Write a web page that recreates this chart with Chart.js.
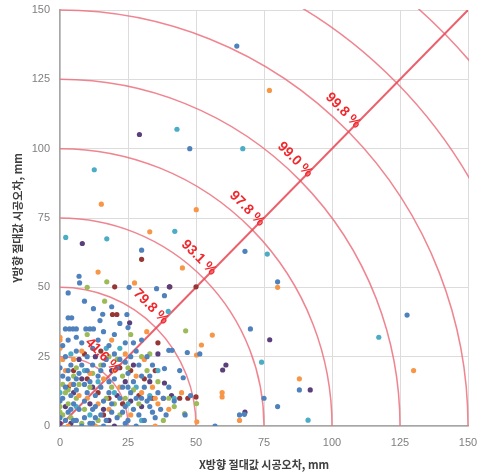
<!DOCTYPE html>
<html>
<head>
<meta charset="utf-8">
<script src="https://cdn.jsdelivr.net/npm/chart.js@4"></script>
<style>
  html, body { margin: 0; padding: 0; background: #fff; }
  #wrap { width: 478px; height: 473px; }
</style>
</head>
<body>
<div id="wrap"><canvas id="grafico"></canvas></div>
<script>
// valores dos eixos (mm)
const eixoMin = 0;
const eixoMax = 150;
const eixoPasso = 25;

// circulos de referencia e percentuais acumulados
const raios = [25, 50, 75, 100, 125, 150, 175, 200];
const rotulosRaio = ['41.6 %', '79.8 %', '93.1 %', '97.8 %', '99.0 %', '99.8 %', '', ''];

// linha diagonal X = Y
const diagonal = [[0, 0], [150, 150]];

// pontos medidos [x, y] por serie
const serieAzul = [
  [65, 137], [47.7, 100], [30, 63.4], [68, 63], [80, 52], [70, 35], [88, 13], [75, 10], [80, 7], [66, 4],
  [127.6, 40], [7, 54], [7.2, 51.6], [3, 48], [9, 45], [19, 43], [12.3, 42.3], [15.7, 40.3], [24.6, 40.2],
  [3, 39], [4.3, 39], [2, 35], [3.5, 35], [4.8, 35], [6, 35], [9.5, 35], [11, 35], [12.3, 35], [25, 35.5],
  [14.7, 38], [25.4, 50], [35.5, 49.5], [38.4, 47], [40, 27.3], [41.2, 27.3], [46.8, 26.5], [51.4, 26],
  [45.3, 17.4], [38.4, 20.7], [67.8, 4.2], [57, 0], [28, 0], [24, 1], [12, 1], [6, 2],
  [1, 10], [2, 14], [3, 17], [4, 11], [5, 8], [6, 13], [7, 19], [8, 22], [9, 9], [10, 12], [11, 16],
  [12, 6], [13, 3], [14, 18], [15, 14], [16, 9], [17, 24], [18, 12], [19, 5], [20, 17], [21, 21],
  [22, 10], [23, 14], [24, 7], [25, 19], [26, 12], [27, 16], [28, 10], [29, 22], [31, 14], [32, 9],
  [33, 18], [34, 5], [36, 12], [2, 25], [4, 22], [6, 27], [8, 30], [10, 25], [12, 28], [14, 31],
  [16, 22], [18, 29], [20, 26], [22, 24], [24, 30], [26, 25], [28, 27], [3, 5], [5, 2], [7, 6], [9, 3],
  [11, 1], [13, 7], [15, 4], [17, 2], [19, 8], [21, 3], [23, 5], [25, 2], [27, 6], [29, 4], [31, 2],
  [33, 7], [35, 3], [37, 6], [39, 4], [42, 9], [46, 4], [48, 11], [10, 20], [12, 22], [6, 17], [3, 20],
  [1, 18], [5, 15], [15, 20], [18, 16], [25, 14], [30, 18], [32, 25], [27, 30], [24, 23], [13, 11],
  [9, 15], [4, 6], [2, 2], [1, 29], [3, 31], [6, 32], [16, 34], [20, 33], [22, 37], [30, 31], [34, 22],
  [38, 10], [40, 14], [44, 20], [30, 10], [33, 10], [8, 0], [16, 0], [0, 3], [0, 9], [0, 21]
];
const serieLaranja = [
  [15.2, 80], [50.1, 78], [33, 70], [77, 121], [45, 57], [80, 50], [88, 17], [130, 20], [66, 2],
  [14, 55.5], [27.4, 51.6], [31.9, 34], [56, 32.8], [50.2, 25.6], [52, 29.2], [59.6, 12], [59.6, 10.5],
  [44.7, 12], [50.3, 1.5], [0, 28], [0, 31], [0, 32], [1, 24], [2, 20], [5, 24], [8, 27], [10, 10],
  [14, 8], [18, 6], [20, 20], [22, 14], [26, 4], [28, 18], [30, 12], [35, 0], [36, 8], [13, 0], [3, 0],
  [7, 11], [24, 26], [16, 17], [31, 24], [40, 6], [34, 14], [19, 31], [35, 10], [11, 19], [4, 15]
];
const serieVerde = [
  [46.2, 34.3], [16.4, 45], [17.2, 52], [10, 50], [45.8, 4.5], [50.2, 8.1], [1, 15], [2, 12], [3, 8],
  [4, 3], [6, 10], [7, 15], [9, 6], [11, 14], [12, 19], [15, 22], [17, 10], [19, 14], [21, 24], [23, 18],
  [25, 21], [27, 13], [29, 8], [30, 25], [33, 26], [36, 16], [38, 2], [42, 7], [22, 4], [14, 2], [5, 18],
  [8, 1], [0, 5], [0, 7], [1, 4], [26, 33], [20, 8], [24, 10], [32, 20], [18, 25], [10, 33], [40, 10],
  [3, 13], [6, 21]
];
const serieCiano = [
  [43, 107], [12.6, 92.4], [42.2, 70.2], [2.1, 68], [17.2, 67.5], [67.2, 100], [76.2, 62], [74.1, 23],
  [91.2, 2.1], [117.2, 32], [39.8, 41.3], [0, 12], [4, 26], [9, 20], [14, 16], [20, 12], [25, 8], [30, 2],
  [36, 20], [11, 4], [22, 28], [28, 14], [6, 7], [17, 28], [33, 11], [42, 10]
];
const serieRoxo = [
  [29.2, 105.1], [8.2, 65.8], [77.1, 31.1], [92, 13], [68, 5], [25.6, 37.2], [59.8, 20.2], [61, 22],
  [38.4, 15.5], [40.2, 50.2], [0, 1], [2, 7], [5, 12], [8, 17], [11, 8], [13, 25], [16, 6], [19, 20],
  [21, 11], [24, 16], [27, 22], [30, 7], [33, 16], [36, 26], [12, 14], [7, 24], [41, 11], [20, 0], [18, 2],
  [4, 1], [26, 9]
];
const serieVinho = [
  [30, 60.1], [50, 50.2], [20.1, 50.2], [40.4, 50.2], [19.3, 40.2], [20.9, 40.2], [50, 10.5], [5, 20],
  [10, 17], [15, 27], [18, 10], [23, 8], [26, 20], [31, 17], [34, 10], [38, 10], [44, 10], [47, 10],
  [14, 12], [9, 26], [3, 14], [22, 21], [29, 11], [35, 20], [36, 30], [16, 4]
];

const series = [
  { dados: serieAzul, cor: '#4F81BD' },
  { dados: serieLaranja, cor: '#F79646' },
  { dados: serieVerde, cor: '#9BBB59' },
  { dados: serieCiano, cor: '#4BACC6' },
  { dados: serieRoxo, cor: '#5B3F7A' },
  { dados: serieVinho, cor: '#953735' }
];

const paraXY = arr => arr.map(p => ({ x: p[0], y: p[1] }));

// circulos e rotulos percentuais
const circulos = {
  id: 'circulos',
  beforeDatasetsDraw(chart) {
    const { ctx, chartArea: a, scales: { x, y } } = chart;
    const cx = x.getPixelForValue(0), cy = y.getPixelForValue(0);
    ctx.save();
    ctx.beginPath();
    ctx.rect(a.left - 1, a.top - 1, a.right - a.left + 2, a.bottom - a.top + 2);
    ctx.clip();
    ctx.strokeStyle = 'rgba(236, 112, 124, 0.85)';
    ctx.lineWidth = 1.5;
    raios.forEach(r => {
      const rx = x.getPixelForValue(r) - cx;
      const ry = cy - y.getPixelForValue(r);
      ctx.beginPath();
      ctx.ellipse(cx, cy, rx, ry, 0, -Math.PI / 2, 0);
      ctx.stroke();
    });
    ctx.restore();
  },
  afterDatasetsDraw(chart) {
    const { ctx, scales: { x, y } } = chart;
    ctx.save();
    ctx.fillStyle = '#F0282D';
    ctx.font = 'bold 14px "Liberation Sans", Arial, sans-serif';
    ctx.textAlign = 'right';
    ctx.textBaseline = 'middle';
    raios.forEach((r, i) => {
      if (!rotulosRaio[i]) return;
      const d = r / Math.SQRT2;
      const px = x.getPixelForValue(d) + 8;
      const py = y.getPixelForValue(d) - 8;
      ctx.save();
      ctx.translate(px, py);
      ctx.rotate(Math.PI / 4);
      ctx.fillText(rotulosRaio[i], 3, 0);
      ctx.restore();
    });
    ctx.restore();
  }
};

const datasets = series.map(s => ({
  type: 'scatter',
  data: paraXY(s.dados),
  backgroundColor: s.cor,
  borderWidth: 0,
  pointRadius: 2.6,
  order: 1
}));
datasets.push({
  type: 'line',
  data: paraXY(diagonal),
  borderColor: 'rgba(232, 80, 92, 0.9)',
  borderWidth: 2,
  pointRadius: 0,
  fill: false,
  order: 5
});

const fonteTick = { family: '"Liberation Sans", Arial, sans-serif', size: 11 };
const fonteTitulo = { family: '"Noto Sans CJK KR", sans-serif', size: 11, weight: 'bold' };

new Chart(document.getElementById('grafico'), {
  data: { datasets },
  options: {
    responsive: true,
    maintainAspectRatio: false,
    animation: false,
    layout: { padding: { top: 10, right: 10, left: 0, bottom: 0 } },
    plugins: { legend: { display: false }, tooltip: { enabled: false } },
    scales: {
      x: {
        type: 'linear',
        min: eixoMin, max: eixoMax,
        ticks: { stepSize: eixoPasso, color: '#7f7f7f', font: fonteTick, padding: 10 },
        grid: { color: '#dcdcdc', drawTicks: false },
        border: { color: '#a6a6a6', width: 1.5 },
        title: { display: true, text: 'X방향 절대값 시공오차, mm', color: '#404040', font: fonteTitulo, padding: { top: 0, bottom: 2 } },
        afterFit: s => { s.height = 47; s.paddingLeft = 0; s.paddingRight = 0; }
      },
      y: {
        type: 'linear',
        min: eixoMin, max: eixoMax,
        ticks: { stepSize: eixoPasso, color: '#7f7f7f', font: fonteTick, padding: 10 },
        grid: { color: '#dcdcdc', drawTicks: false },
        border: { color: '#a6a6a6', width: 1.5 },
        title: { display: true, text: 'Y방향 절대값 시공오차, mm', color: '#404040', font: fonteTitulo, padding: { top: 11, bottom: 0 } },
        afterFit: s => { s.width = 60; s.paddingTop = 0; s.paddingBottom = 0; }
      }
    }
  },
  plugins: [circulos]
});
</script>
</body>
</html>
